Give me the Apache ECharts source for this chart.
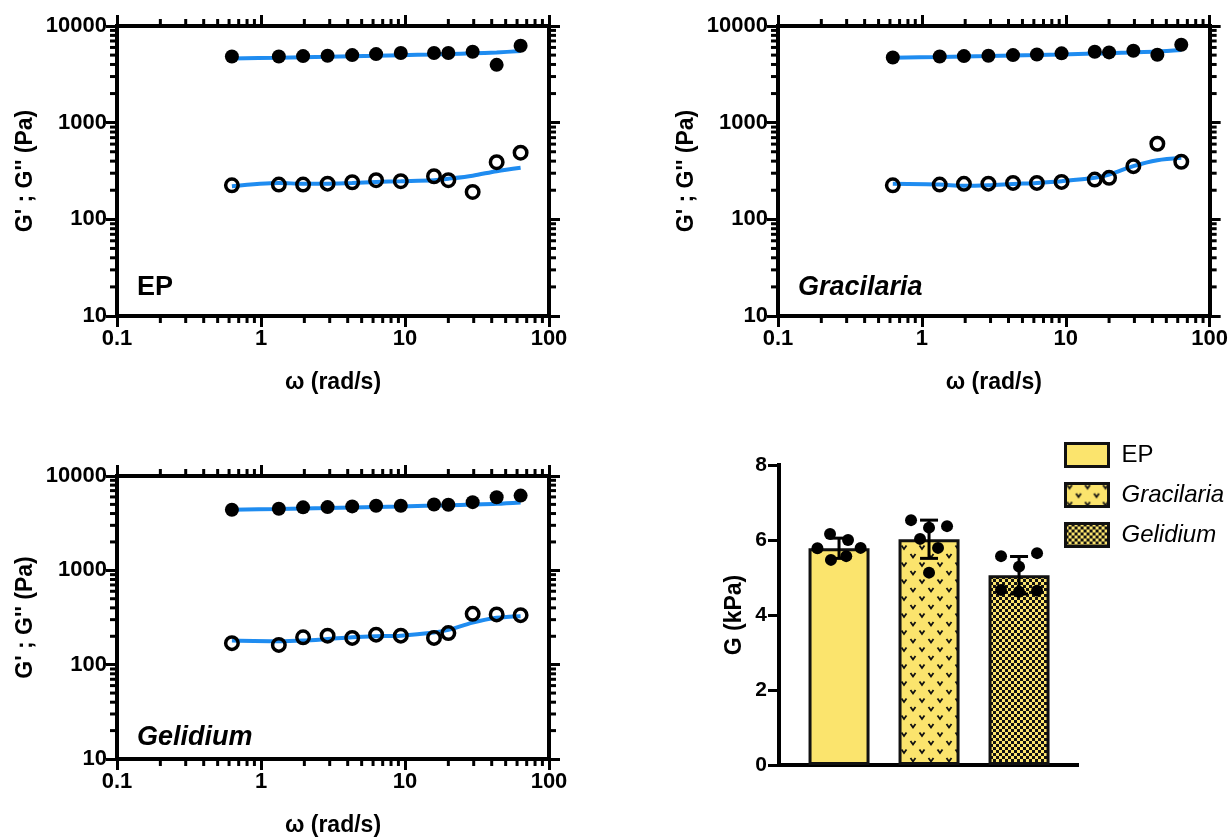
<!DOCTYPE html>
<html>
<head>
<meta charset="utf-8">
<script src="https://cdn.jsdelivr.net/npm/echarts@6/dist/echarts.min.js"></script>
<style>
  html, body { margin: 0; background: #fff; }
  #chart { width: 1231px; height: 838px; }
</style>
</head>
<body>
<div id="chart"></div>
<script>
// frequency sweep, shared by the three panels
const omega = [0.628, 1.33, 1.96, 2.9, 4.3, 6.3, 9.35, 15.9, 20, 29.5, 43.3, 63.5];

const epStorage  = [4840, 4840, 4880, 4920, 5000, 5120, 5250, 5250, 5250, 5410, 3965, 6245];
const epLoss     = [225, 229, 229, 234, 242, 254, 248, 279, 254, 192, 390, 489];
const epStorageFit = [4620, 4700, 4750, 4800, 4860, 4920, 4990, 5080, 5130, 5220, 5330, 5500];
const epLossFit    = [220, 238, 233, 234, 238, 244, 248, 254, 263, 283, 315, 341];

const graStorage = [4730, 4840, 4880, 4920, 5000, 5080, 5210, 5410, 5330, 5540, 5040, 6400];
const graLoss    = [225, 229, 233, 234, 238, 238, 244, 258, 269, 355, 605, 394];
const graStorageFit = [4700, 4780, 4830, 4880, 4940, 5000, 5070, 5180, 5230, 5330, 5450, 5650];
const graLossFit    = [233, 229, 222, 225, 232, 238, 248, 269, 290, 355, 408, 433];

const gelStorage = [4390, 4490, 4650, 4680, 4760, 4830, 4830, 4990, 4950, 5280, 5950, 6200];
const gelLoss    = [169, 162, 195, 203, 192, 208, 203, 192, 216, 346, 341, 335];
const gelStorageFit = [4400, 4480, 4530, 4580, 4640, 4700, 4760, 4860, 4900, 4980, 5080, 5250];
const gelLossFit    = [180, 177, 180, 187, 195, 200, 203, 219, 234, 279, 314, 327];

// minor tick positions of the log axes
const xMinorTicks = [0.2, 0.3, 0.4, 0.5, 0.6, 0.7, 0.8, 0.9, 2, 3, 4, 5, 6, 7, 8, 9, 20, 30, 40, 50, 60, 70, 80, 90];
const yMinorTicks = [20, 30, 40, 50, 60, 70, 80, 90, 200, 300, 400, 500, 600, 700, 800, 900,
  2000, 3000, 4000, 5000, 6000, 7000, 8000, 9000];

// bar panel (G, kPa)
const barNames = ['EP', 'Gracilaria', 'Gelidium'];
const barMeans = [5.78, 6.02, 5.06];
const barLow  = [5.51, 5.51, 4.56];
const barHigh = [6.05, 6.53, 5.56];
// [offset from bar centre, value]
const epDots  = [[-0.24, 5.78], [-0.1, 6.16], [0.1, 6.0], [0.24, 5.79], [-0.09, 5.47], [0.08, 5.57]];
const graDots = [[-0.2, 6.53], [0, 6.33], [0.2, 6.37], [-0.1, 6.03], [0.1, 5.79], [0, 5.13]];
const gelDots = [[-0.2, 5.57], [0.2, 5.65], [0, 5.29], [-0.2, 4.67], [0, 4.62], [0.2, 4.65]];

const FONT = '"Liberation Sans", Arial, sans-serif';
const BLUE = '#1f8cf0';
const YELLOW = '#fbe46d';

function patternV() {
  const c = document.createElement('canvas');
  c.width = 18; c.height = 17;
  const g = c.getContext('2d');
  g.fillStyle = YELLOW; g.fillRect(0, 0, 18, 17);
  g.strokeStyle = '#111'; g.lineWidth = 1.8;
  [[4, 3], [13, 11.5]].forEach(([x, y]) => {
    g.beginPath(); g.moveTo(x - 2.5, y - 1.5); g.lineTo(x, y + 2); g.lineTo(x + 2.5, y - 1.5); g.stroke();
  });
  return c;
}
function patternChecker() {
  const c = document.createElement('canvas');
  c.width = 6; c.height = 6;
  const g = c.getContext('2d');
  g.fillStyle = YELLOW; g.fillRect(0, 0, 6, 6);
  g.fillStyle = '#111'; g.fillRect(0, 0, 3, 3); g.fillRect(3, 3, 3, 3);
  return c;
}
const fills = [YELLOW, { image: patternV(), repeat: 'repeat' }, { image: patternChecker(), repeat: 'repeat' }];

const chart = echarts.init(document.getElementById('chart'));

const grid = [], xAxis = [], yAxis = [], series = [], title = [];
const zip = (xs, ys) => xs.map((x, i) => [x, ys[i]]);
const logFmt = (v) => String(+(+v).toPrecision(4));
const labelStyle = { color: '#000', fontWeight: 'bold', fontSize: 22, fontFamily: FONT };
const nameStyle = { color: '#000', fontWeight: 'bold', fontSize: 23, fontFamily: FONT };
const lineAx = { onZero: false, lineStyle: { color: '#000', width: 4, cap: 'square' } };
const tickAx = { inside: false, length: 11, lineStyle: { color: '#000', width: 3 } };

function minorTicks(gi, kind) {
  const data = kind === 'x' ? xMinorTicks.map(v => [v, 10]) : yMinorTicks.map(v => [0.1, v]);
  series.push({
    type: 'custom', xAxisIndex: gi * 2, yAxisIndex: gi * 2, silent: true, clip: false, z: 1, data,
    renderItem: (params, api) => {
      const st = { stroke: '#000', lineWidth: 3 };
      let a, b;
      if (kind === 'x') {
        a = api.coord([api.value(0), 10]); b = api.coord([api.value(0), 10000]);
        return { type: 'group', children: [
          { type: 'line', shape: { x1: a[0], y1: a[1], x2: a[0], y2: a[1] + 7 }, style: st },
          { type: 'line', shape: { x1: b[0], y1: b[1], x2: b[0], y2: b[1] - 7 }, style: st },
        ] };
      }
      a = api.coord([0.1, api.value(1)]); b = api.coord([100, api.value(1)]);
      return { type: 'group', children: [
        { type: 'line', shape: { x1: a[0], y1: a[1], x2: a[0] - 7, y2: a[1] }, style: st },
        { type: 'line', shape: { x1: b[0], y1: b[1], x2: b[0] + 7, y2: b[1] }, style: st },
      ] };
    },
  });
}

function logPanel(gi, pos, label, italic, storage, loss, storageFit, lossFit) {
  grid.push({ left: pos[0], top: pos[1], width: 432, height: 290 });
  const base = { type: 'log', logBase: 10, gridIndex: gi, splitLine: { show: false } };
  xAxis.push(
    { ...base, min: 0.1, max: 100, position: 'bottom', axisLine: lineAx, axisTick: tickAx,
      axisLabel: { ...labelStyle, margin: 12, formatter: logFmt },
      name: '\u03c9 (rad/s)', nameLocation: 'middle', nameGap: 55, nameTextStyle: nameStyle },
    { ...base, min: 0.1, max: 100, position: 'top', axisLine: lineAx, axisTick: tickAx, axisLabel: { show: false } });
  yAxis.push(
    { ...base, min: 10, max: 10000, position: 'left', axisLine: lineAx, axisTick: tickAx,
      axisLabel: { ...labelStyle, margin: 10, formatter: logFmt },
      name: "G' ; G'' (Pa)", nameLocation: 'middle', nameGap: 80, nameTextStyle: nameStyle },
    { ...base, min: 10, max: 10000, position: 'right', axisLine: lineAx, axisTick: tickAx, axisLabel: { show: false } });
  const ax = { xAxisIndex: gi * 2, yAxisIndex: gi * 2 };
  [storageFit, lossFit].forEach(f => series.push({
    ...ax, type: 'line', data: zip(omega, f), showSymbol: false, smooth: 0.3, z: 2,
    lineStyle: { color: BLUE, width: 4 },
  }));
  series.push({ ...ax, type: 'scatter', data: zip(omega, storage), symbolSize: 14, z: 3,
    itemStyle: { color: '#000', opacity: 1 } });
  series.push({ ...ax, type: 'scatter', data: zip(omega, loss), symbolSize: 12.5, z: 3,
    itemStyle: { color: 'rgba(0,0,0,0)', borderColor: '#000', borderWidth: 3.5, opacity: 1 } });
  minorTicks(gi, 'x');
  minorTicks(gi, 'y');
  title.push({ text: label, left: pos[0] + 20, top: pos[1] + 248, padding: 0,
    textStyle: { color: '#000', fontSize: 27, fontWeight: 'bold', fontStyle: italic ? 'italic' : 'normal', fontFamily: FONT } });
}

logPanel(0, [117, 26], 'EP', false, epStorage, epLoss, epStorageFit, epLossFit);
logPanel(1, [778, 26], 'Gracilaria', true, graStorage, graLoss, graStorageFit, graLossFit);
logPanel(2, [117, 476], 'Gelidium', true, gelStorage, gelLoss, gelStorageFit, gelLossFit);

// bar panel
grid.push({ left: 779, top: 465, width: 298, height: 300 });
xAxis.push({ type: 'value', gridIndex: 3, min: -0.667, max: 2.644, axisLine: lineAx,
  axisTick: { show: false }, axisLabel: { show: false }, splitLine: { show: false } });
yAxis.push({ type: 'value', gridIndex: 3, min: 0, max: 8, interval: 2, axisLine: lineAx,
  axisTick: { inside: false, length: 11, lineStyle: { color: '#000', width: 3 } },
  axisLabel: { ...labelStyle, fontSize: 21, margin: 12 }, splitLine: { show: false },
  name: 'G (kPa)', nameLocation: 'middle', nameGap: 33, nameTextStyle: nameStyle });

barNames.forEach((name, i) => series.push({
  name, type: 'bar', xAxisIndex: 6, yAxisIndex: 6, barWidth: 61, barGap: '-100%', z: 2,
  data: [[i, barMeans[i]]],
  itemStyle: { color: fills[i], borderColor: '#111', borderWidth: 3 },
}));
series.push({
  type: 'custom', xAxisIndex: 6, yAxisIndex: 6, z: 3, silent: true, clip: false,
  dimensions: ['x', 'lo', 'hi'], encode: { x: 0, y: [1, 2] },
  data: barMeans.map((m, i) => [i, barLow[i], barHigh[i]]),
  renderItem: (params, api) => {
    const x = api.value(0);
    const hi = api.coord([x, api.value(2)]), lo = api.coord([x, api.value(1)]);
    const st = { stroke: '#000', lineWidth: 3 };
    return { type: 'group', children: [
      { type: 'line', shape: { x1: hi[0], y1: hi[1], x2: lo[0], y2: lo[1] }, style: st },
      { type: 'line', shape: { x1: hi[0] - 9, y1: hi[1], x2: hi[0] + 9, y2: hi[1] }, style: st },
      { type: 'line', shape: { x1: lo[0] - 9, y1: lo[1], x2: lo[0] + 9, y2: lo[1] }, style: st },
    ] };
  },
});
[epDots, graDots, gelDots].forEach((dots, i) => series.push({
  type: 'scatter', xAxisIndex: 6, yAxisIndex: 6, z: 4, symbolSize: 12,
  data: dots.map(([dx, v]) => [i + dx, v]), itemStyle: { color: '#000', opacity: 1 },
}));

chart.setOption({
  animation: false,
  textStyle: { fontFamily: FONT },
  title,
  grid,
  xAxis,
  yAxis,
  legend: {
    left: 1064, top: 442, padding: 0, orient: 'vertical', itemWidth: 43, itemHeight: 23, itemGap: 14,
    icon: 'rect', selectedMode: false,
    itemStyle: { borderColor: '#111', borderWidth: 3 },
    textStyle: { color: '#000', fontSize: 24, fontFamily: FONT, padding: [0, 0, 0, 8] },
    data: [
      { name: 'EP' },
      { name: 'Gracilaria', textStyle: { fontStyle: 'italic' } },
      { name: 'Gelidium', textStyle: { fontStyle: 'italic' } },
    ],
  },
  series,
});
</script>
</body>
</html>
